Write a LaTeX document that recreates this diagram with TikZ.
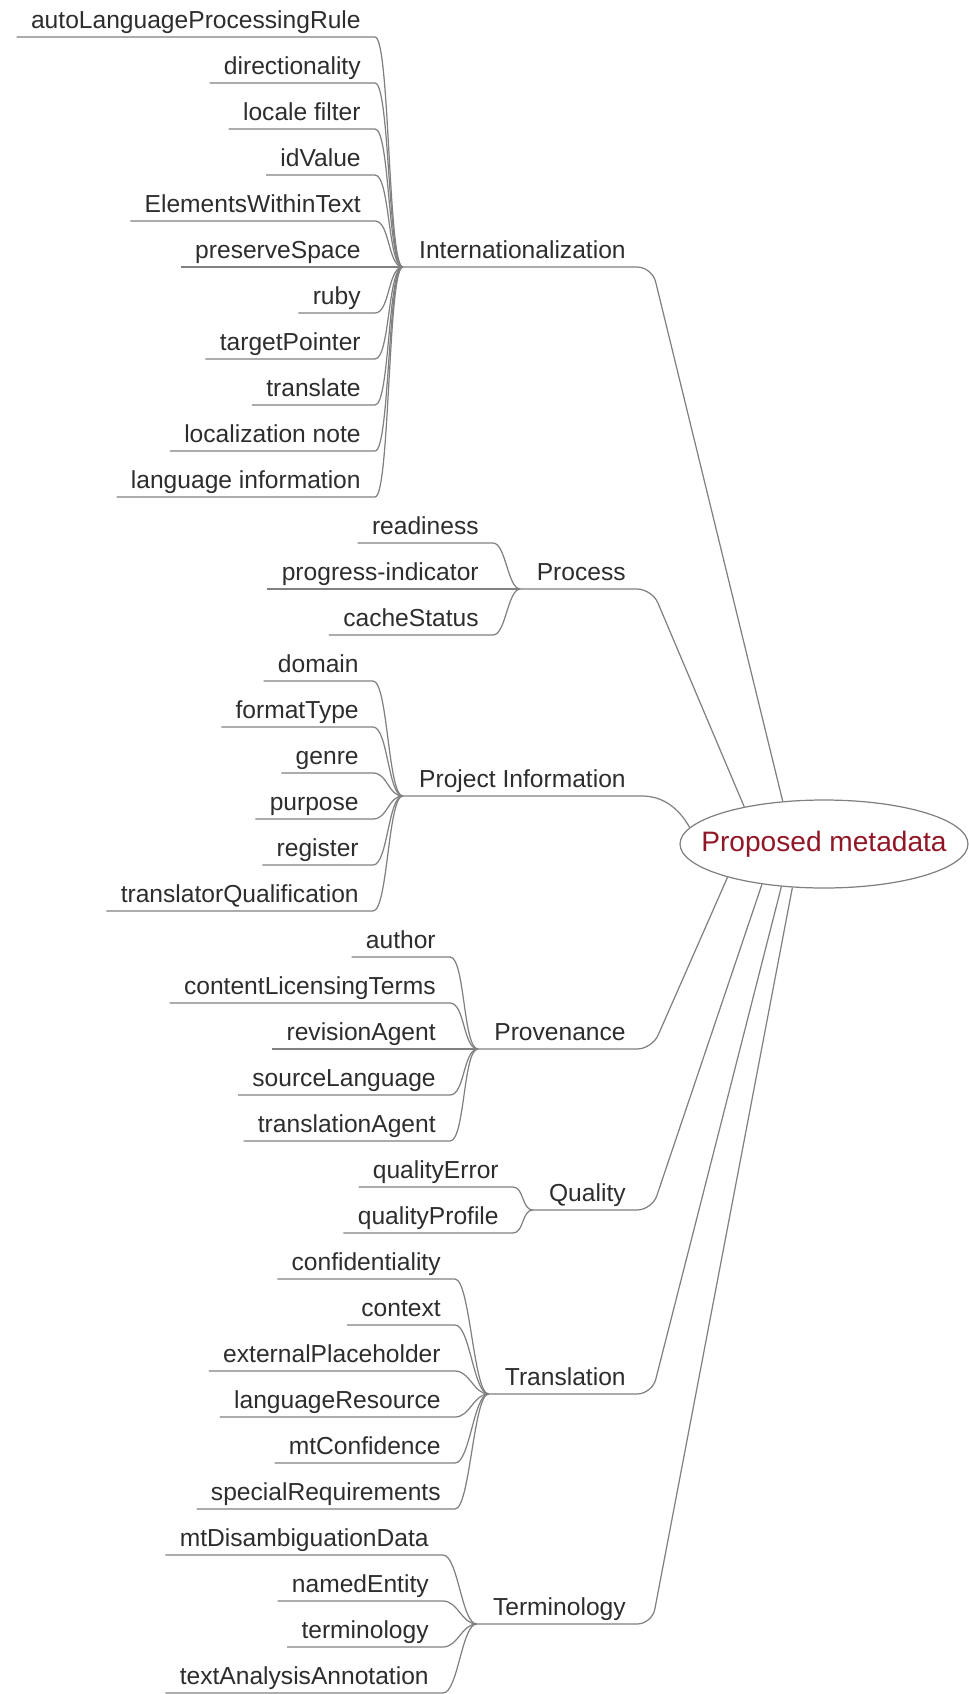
\documentclass[tikz,border=0pt]{standalone}
\usepackage{fontspec}
\setmainfont{Liberation Sans}
\usetikzlibrary{shapes,calc}
\definecolor{linkgray}{RGB}{128,128,128}
\definecolor{labelgray}{RGB}{45,45,45}
\definecolor{rootred}{RGB}{145,22,38}
\tikzstyle{link} = [draw=linkgray, line width=0.7pt]
\tikzstyle{leaf} = [anchor=south east, inner xsep=0.28cm, inner ysep=0.16cm, text depth=0pt, text=labelgray, font=\fontsize{14}{16}\selectfont]
\tikzstyle{group} = [leaf, inner xsep=0.32cm]
\tikzstyle{root} = [draw=linkgray, ellipse, line width=0.7pt, minimum width=5.76cm, minimum height=1.76cm, inner sep=0pt, text=rootred, font=\fontsize{16}{18}\selectfont]

\begin{document}
\begin{tikzpicture}[x=0.02cm, y=-0.02cm]
        \useasboundingbox (0,0) rectangle (969,1694);
        \node[root] (meta) at (824,844) {\makebox[0pt]{Proposed metadata}};

        % categories
        \node[group] (intl) at (642,267) {Internationalization};
        \node[group] (proc) at (642,589) {Process};
        \node[group] (proj) at (642,796) {Project Information};
        \node[group] (prov) at (642,1049) {Provenance};
        \node[group] (qual) at (642,1210) {Quality};
        \node[group] (trans) at (642,1394) {Translation};
        \node[group] (term) at (642,1624) {Terminology};

        \path[link, rounded corners=0.3cm] (intl.south west) -- ([xshift=0.2cm]intl.south east) -- (meta.134);
        \path[link, rounded corners=0.3cm] (proc.south west) -- ([xshift=0.2cm]proc.south east) -- (meta.155);
        \path[link] (proj.south west) -- (proj.south east) .. controls +(22,0) and +(-10,-18) .. (meta.173);
        \path[link, rounded corners=0.3cm] (prov.south west) -- ([xshift=0.2cm]prov.south east) -- (meta.199);
        \path[link, rounded corners=0.3cm] (qual.south west) -- ([xshift=0.2cm]qual.south east) -- (meta.213);
        \path[link, rounded corners=0.3cm] (trans.south west) -- ([xshift=0.2cm]trans.south east) -- (meta.225);
        \path[link, rounded corners=0.3cm] (term.south west) -- ([xshift=0.2cm]term.south east) -- (meta.234);

        % properties
        \foreach \t [count=\i from 0] in {autoLanguageProcessingRule, directionality, locale filter, idValue, ElementsWithinText, preserveSpace, ruby, targetPointer, translate, localization note, language information} {
            \node[leaf] (intl\i) at (375,37+46*\i) {\t};
            \path[link] (intl\i.south west) -- (intl\i.south east) .. controls +(15,0) and +(-15,0) .. (intl.south west);
        }
        \foreach \t [count=\i from 11] in {readiness, progress-indicator, cacheStatus} {
            \node[leaf] (proc\i) at (493,37+46*\i) {\t};
            \path[link] (proc\i.south west) -- (proc\i.south east) .. controls +(13,0) and +(-13,0) .. (proc.south west);
        }
        \foreach \t [count=\i from 14] in {domain, formatType, genre, purpose, register, translatorQualification} {
            \node[leaf] (proj\i) at (373,37+46*\i) {\t};
            \path[link] (proj\i.south west) -- (proj\i.south east) .. controls +(15,0) and +(-15,0) .. (proj.south west);
        }
        \foreach \t [count=\i from 20] in {author, contentLicensingTerms, revisionAgent, sourceLanguage, translationAgent} {
            \node[leaf] (prov\i) at (450,37+46*\i) {\t};
            \path[link] (prov\i.south west) -- (prov\i.south east) .. controls +(15,0) and +(-15,0) .. (prov.south west);
        }
        \foreach \t [count=\i from 25] in {qualityError, qualityProfile} {
            \node[leaf] (qual\i) at (513,37+46*\i) {\t};
            \path[link] (qual\i.south west) -- (qual\i.south east) .. controls +(11,0) and +(-11,0) .. (qual.south west);
        }
        \foreach \t [count=\i from 27] in {confidentiality, context, externalPlaceholder, languageResource, mtConfidence, specialRequirements} {
            \node[leaf] (trans\i) at (455,37+46*\i) {\t};
            \path[link] (trans\i.south west) -- (trans\i.south east) .. controls +(15,0) and +(-15,0) .. (trans.south west);
        }
        \foreach \t [count=\i from 33] in {mtDisambiguationData, namedEntity, terminology, textAnalysisAnnotation} {
            \node[leaf] (term\i) at (443,37+46*\i) {\t};
            \path[link] (term\i.south west) -- (term\i.south east) .. controls +(15,0) and +(-15,0) .. (term.south west);
        }
    \end{tikzpicture}
\end{document}
